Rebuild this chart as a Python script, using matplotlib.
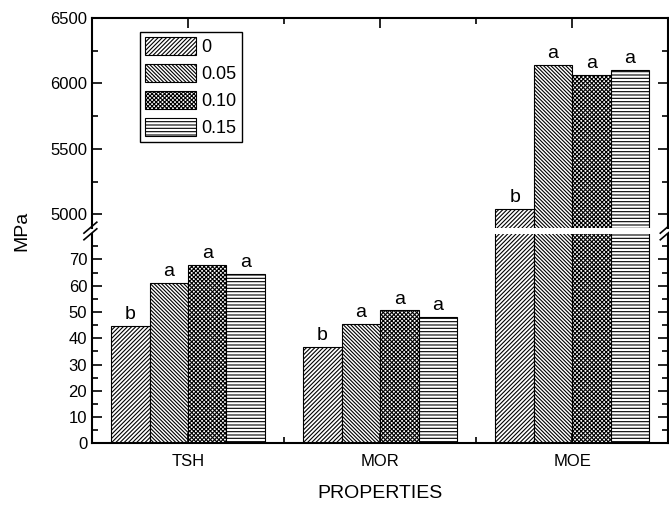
import numpy as np
import matplotlib
matplotlib.use('Agg')
import matplotlib.pyplot as plt
from matplotlib.ticker import MultipleLocator, FixedLocator

plt.rcParams['font.family'] = ['Liberation Sans', 'DejaVu Sans']
plt.rcParams['hatch.linewidth'] = 0.8

# data
categories = ['TSH', 'MOR', 'MOE']
levels = ['0', '0.05', '0.10', '0.15']
vals_0 = [44.8, 36.8, 5038]
vals_005 = [61.2, 45.4, 6142]
vals_010 = [67.9, 50.6, 6066]
vals_015 = [64.5, 48.1, 6104]
letters_0 = ['b', 'b', 'b']
letters_005 = ['a', 'a', 'a']
letters_010 = ['a', 'a', 'a']
letters_015 = ['a', 'a', 'a']

series = [vals_0, vals_005, vals_010, vals_015]
letters = [letters_0, letters_005, letters_010, letters_015]
hatches = ['////////', '\\\\\\\\\\\\\\\\\\', 'xxxxxxxx', '-----']

fig = plt.figure(figsize=(6.69, 5.07), dpi=100)
ax_top = fig.add_axes([0.1375, 0.5509, 0.8615, 0.4136])
ax_bot = fig.add_axes([0.1375, 0.1256, 0.8615, 0.4123])

x = np.arange(len(categories))
w = 0.2
for ax in (ax_top, ax_bot):
    for i, vals in enumerate(series):
        ax.bar(x + (i - 1.5) * w, vals, w, facecolor='white', edgecolor='black',
               linewidth=0.8, hatch=hatches[i], label=levels[i])
    ax.set_xlim(-0.5, 2.5)
    for s in ax.spines.values():
        s.set_linewidth(1.5)
    ax.tick_params(which='both', direction='in', top=True, right=True,
                   labelsize=12, width=1.2)
    ax.tick_params(which='major', length=7)
    ax.tick_params(which='minor', length=4)
    ax.xaxis.set_major_locator(FixedLocator(x))
    ax.xaxis.set_minor_locator(FixedLocator([0.5, 1.5]))

ax_top.set_ylim(4897, 6500)
ax_top.yaxis.set_major_locator(MultipleLocator(500))
ax_top.yaxis.set_minor_locator(MultipleLocator(250))
ax_top.spines['bottom'].set_visible(False)
ax_top.tick_params(which='both', bottom=False, labelbottom=False)

ax_bot.set_ylim(0, 79.6)
ax_bot.yaxis.set_major_locator(MultipleLocator(10))
ax_bot.yaxis.set_minor_locator(MultipleLocator(5))
ax_bot.spines['top'].set_visible(False)
ax_bot.tick_params(which='both', top=False)
ax_bot.set_xticklabels(categories)
ax_bot.tick_params(axis='x', pad=8)

# letters above bars
for i, vals in enumerate(series):
    for j, v in enumerate(vals):
        ax = ax_top if v > 1000 else ax_bot
        ax.annotate(letters[i][j], (x[j] + (i - 1.5) * w, v), xytext=(0, 2),
                    textcoords='offset points', ha='center', va='bottom', fontsize=14)

# break marks
d = 0.012
for xf in (0.1375, 0.999):
    for yf in (0.5509, 0.5379):
        fig.add_artist(plt.Line2D([xf - d, xf + d * 0.6], [yf - d * 0.9, yf + d * 0.9],
                                  color='black', lw=1.2, transform=fig.transFigure))

leg = ax_top.legend(loc='upper left', bbox_to_anchor=(0.083, 0.933), borderaxespad=0,
                    fontsize=13, handlelength=2.8, handleheight=1.1, labelspacing=0.45,
                    fancybox=False, edgecolor='black', framealpha=1, handletextpad=0.3,
                    borderpad=0.3)
leg.get_frame().set_linewidth(1.0)

fig.text(0.033, 0.545, 'MPa', rotation=90, ha='center', va='center', fontsize=14)
fig.text(0.568, 0.027, 'PROPERTIES', ha='center', va='center', fontsize=14)

fig.savefig('out.png', dpi=100)
